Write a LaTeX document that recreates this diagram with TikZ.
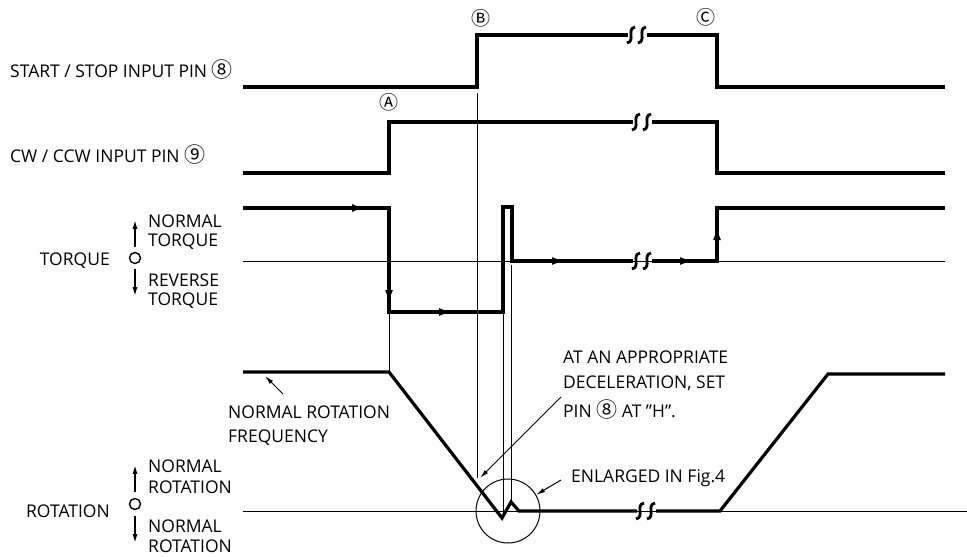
\documentclass[tikz,border=0pt]{standalone}
\usepackage{fontspec}
\setmainfont{Open Sans}
\newfontfamily\circfont{Noto Sans CJK JP}
\usetikzlibrary{arrows.meta, positioning}

% circled pin number
\newcommand{\pinno}[1]{{\circfont\fontsize{21}{19}\selectfont #1}}
% two wavy strokes marking a time break
\newcommand{\tbreak}[2]{%
  \draw[line width=2.8pt] (#1+4,#2-8) .. controls (#1-5,#2-6) and (#1+5,#2+6) .. (#1-4,#2+8);
  \draw[line width=2.8pt] (#1+15,#2-8) .. controls (#1+6,#2-6) and (#1+16,#2+6) .. (#1+7,#2+8);}

\begin{document}
\begin{tikzpicture}[x=1pt, y=-1pt,
    lbl/.style={anchor=west, inner sep=0pt, font=\fontsize{17.5}{19}\selectfont},
    tag/.style={inner sep=0pt, font=\circfont\fontsize{19}{20}\selectfont},
    sig/.style={line width=3.2pt, line join=miter},
    guide/.style={line width=1pt},
    ann/.style={guide, -{Latex[length=9pt,width=4.5pt]}},
    flow/.style={line width=1pt, -{Latex[length=12pt,width=8pt]}},
    updown/.style={line width=1.6pt, -{Latex[length=9pt,width=5pt]}}
  ]
  \useasboundingbox (0,0) rectangle (967,557);

  % Labels on the left
  \node[lbl] (ss) at (10,70) {START / STOP INPUT PIN \pinno{⑧}};
  \node[lbl] (cw) at (10,155) {CW / CCW INPUT PIN \pinno{⑨}};

  \node[lbl, anchor=east] (tq) at (110,261) {TORQUE};
  \node[draw, circle, line width=1.4pt, minimum size=11pt, inner sep=0pt] (tqo) at (135,258) {};
  \draw[updown] (tqo.north) ++(0,-5) -- ++(0,-27);
  \draw[updown] (tqo.south) ++(0,5) -- ++(0,27);
  \node[lbl] (tqn1) at (148,221) {NORMAL};
  \node[lbl] (tqn2) at (148,242) {TORQUE};
  \node[lbl] (tqr1) at (148,280) {REVERSE};
  \node[lbl] (tqr2) at (148,301) {TORQUE};

  \node[lbl, anchor=east] (rot) at (110,511) {ROTATION};
  \node[draw, circle, line width=1.4pt, minimum size=11pt, inner sep=0pt] (roto) at (135,504) {};
  \draw[updown] (roto.north) ++(0,-6) -- ++(0,-27);
  \draw[updown] (roto.south) ++(0,6) -- ++(0,27);
  \node[lbl] (rn1) at (148,466) {NORMAL};
  \node[lbl] (rn2) at (148,487) {ROTATION};
  \node[lbl] (rn3) at (148,526) {NORMAL};
  \node[lbl] (rn4) at (148,546) {ROTATION};

  % START/STOP pin 8
  \draw[sig] (243,87) -- (477,87) -- (477,35) -- (628,35);
  \draw[sig] (647,35) -- (717,35) -- (717,87) -- (945,87);
  \tbreak{631}{35}
  \node[tag] (tB) at (481,18) {Ⓑ};
  \node[tag] (tC) at (706,17) {Ⓒ};

  % CW/CCW pin 9
  \draw[sig] (243,173) -- (389,173) -- (389,122) -- (633,122);
  \draw[sig] (652,122) -- (717,122) -- (717,173) -- (945,173);
  \tbreak{636}{122}
  \node[tag] (tA) at (389,102) {Ⓐ};

  % Torque
  \draw[guide] (243,261) -- (945,261);
  \draw[sig] (243,208) -- (389,208) -- (389,312) -- (503,312) -- (503,207)
    -- (512,207) -- (512,261) -- (633,261);
  \draw[sig] (652,261) -- (717,261) -- (717,208) -- (945,208);
  \tbreak{636}{261}
  \draw[flow] (346,208) -- (364,208);
  \draw[flow] (389,284) -- (389,302);
  \draw[flow] (433,312) -- (451,312);
  \draw[flow] (546,261) -- (564,261);
  \draw[flow] (674,261) -- (692,261);
  \draw[flow] (717,246) -- (717,228);

  % Rotation
  \draw[guide] (243,511) -- (967,511);
  \draw[sig] (243,372) -- (389,372) -- (502,518) -- (511,502) -- (519,511) -- (637,511);
  \draw[sig] (656,511) -- (720,511) -- (828,374) -- (945,374);
  \tbreak{640}{511}

  % Timing guides
  \draw[guide] (389,312) -- (389,372);
  \draw[guide] (477,93) -- (477,478);
  \draw[guide] (503,312) -- (503,518);
  \draw[guide] (511,265) -- (511,502);
  \node[draw, circle, guide, minimum size=64pt, inner sep=0pt] (zoomc) at (508,511) {};

  % Notes
  \node[lbl] (nrf1) at (228,412) {NORMAL ROTATION};
  \node[lbl] (nrf2) at (228,438) {FREQUENCY};
  \coordinate (nrfa) at (283,394);
  \draw[ann] (nrfa) -- (265,376);

  \node[lbl] (dec1) at (563,357) {AT AN APPROPRIATE};
  \node[lbl] (dec2) at (563,383) {DECELERATION, SET};
  \node[lbl] (dec3) at (563,410) {PIN \pinno{⑧} AT "H".};
  \coordinate (deca) at (561,397);
  \draw[ann] (deca) -- (480,478);

  \node[lbl] (enl) at (571,478) {ENLARGED IN Fig.4};
  \coordinate (enla) at (561,480);
  \draw[ann] (enla) -- (zoomc.30);
\end{tikzpicture}
\end{document}
